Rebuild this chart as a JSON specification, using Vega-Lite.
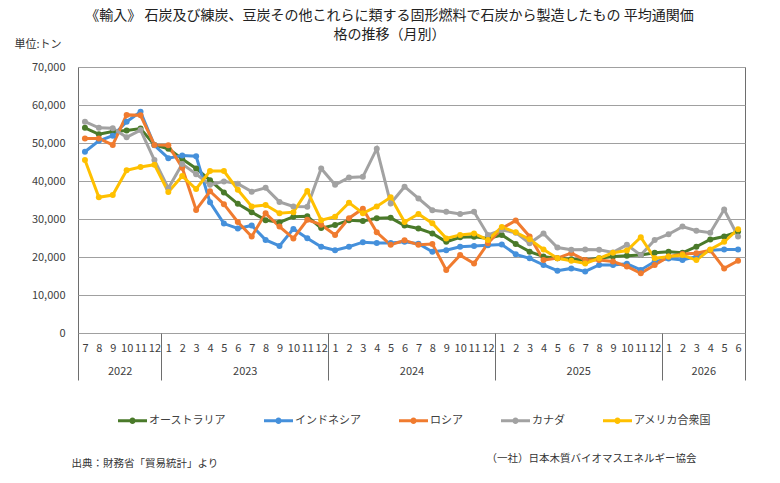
{
  "$schema": "https://vega.github.io/schema/vega-lite/v6.json",
  "width": 667,
  "height": 266,
  "autosize": "none",
  "padding": {"left": 78, "top": 67, "right": 35, "bottom": 150},
  "background": "white",
  "title": {
    "text": ["《輸入》 石炭及び練炭、豆炭その他これらに類する固形燃料で石炭から製造したもの  平均通関価", "格の推移（月別）"],
    "fontSize": 14,
    "fontWeight": "normal",
    "color": "#222222",
    "anchor": "middle",
    "dx": -22,
    "dy": 4,
    "offset": 0,
    "lineHeight": 19
  },
  "config": {
    "font": "Noto Sans CJK JP",
    "view": {"stroke": "#6e6e6e", "strokeWidth": 1},
    "axis": {
      "labelFont": "Noto Sans CJK JP",
      "titleFont": "Noto Sans CJK JP",
      "labelColor": "#404040",
      "titleColor": "#333333",
      "titleFontWeight": "normal"
    },
    "legend": {
      "orient": "none",
      "legendX": 40,
      "legendY": 339,
      "direction": "horizontal",
      "columnPadding": 38,
      "labelFont": "Noto Sans CJK JP",
      "labelFontSize": 11,
      "labelColor": "#404040",
      "labelOffset": 2,
      "labelLimit": 200,
      "symbolType": "M-1,-0.11L1,-0.11L1,0.11L-1,0.11Z M-0.22,0A0.22,0.22 0 1,1 0.22,0A0.22,0.22 0 1,1 -0.22,0Z",
      "symbolSize": 841,
      "symbolStrokeWidth": 0
    }
  },
  "data": {
    "values": [
      {"i": 0, "オーストラリア": 54000, "インドネシア": 47700, "ロシア": 51200, "カナダ": 55600, "アメリカ合衆国": 45500},
      {"i": 1, "オーストラリア": 52300, "インドネシア": 50600, "ロシア": 51200, "カナダ": 54000, "アメリカ合衆国": 35700},
      {"i": 2, "オーストラリア": 53000, "インドネシア": 51900, "ロシア": 49500, "カナダ": 53900, "アメリカ合衆国": 36300},
      {"i": 3, "オーストラリア": 53300, "インドネシア": 55600, "ロシア": 57400, "カナダ": 51500, "アメリカ合衆国": 42800},
      {"i": 4, "オーストラリア": 53800, "インドネシア": 58200, "ロシア": 57300, "カナダ": 53400, "アメリカ合衆国": 43700},
      {"i": 5, "オーストラリア": 49500, "インドネシア": 49400, "ロシア": 49500, "カナダ": 45500, "アメリカ合衆国": 44300},
      {"i": 6, "オーストラリア": 48500, "インドネシア": 46000, "ロシア": 49400, "カナダ": 38100, "アメリカ合衆国": 37100},
      {"i": 7, "オーストラリア": 45800, "インドネシア": 46700, "ロシア": 43500, "カナダ": 44500, "アメリカ合衆国": 41300},
      {"i": 8, "オーストラリア": 43300, "インドネシア": 46500, "ロシア": 32400, "カナダ": 41800, "アメリカ合衆国": 37900},
      {"i": 9, "オーストラリア": 40200, "インドネシア": 34400, "ロシア": 37300, "カナダ": 39000, "アメリカ合衆国": 42600},
      {"i": 10, "オーストラリア": 37000, "インドネシア": 28800, "ロシア": 33900, "カナダ": 39900, "アメリカ合衆国": 42600},
      {"i": 11, "オーストラリア": 34000, "インドネシア": 27500, "ロシア": 29200, "カナダ": 39300, "アメリカ合衆国": 37700},
      {"i": 12, "オーストラリア": 31800, "インドネシア": 28300, "ロシア": 25400, "カナダ": 37200, "アメリカ合衆国": 33300},
      {"i": 13, "オーストラリア": 29700, "インドネシア": 24500, "ロシア": 31500, "カナダ": 38200, "アメリカ合衆国": 33700},
      {"i": 14, "オーストラリア": 29100, "インドネシア": 22900, "ロシア": 28000, "カナダ": 34500, "アメリカ合衆国": 31500},
      {"i": 15, "オーストラリア": 30600, "インドネシア": 27400, "ロシア": 24900, "カナダ": 33300, "アメリカ合衆国": 31800},
      {"i": 16, "オーストラリア": 30700, "インドネシア": 24950, "ロシア": 29800, "カナダ": 33200, "アメリカ合衆国": 37400},
      {"i": 17, "オーストラリア": 27600, "インドネシア": 22700, "ロシア": 28500, "カナダ": 43300, "アメリカ合衆国": 29700},
      {"i": 18, "オーストラリア": 28400, "インドネシア": 21800, "ロシア": 25800, "カナダ": 39000, "アメリカ合衆国": 30600},
      {"i": 19, "オーストラリア": 29700, "インドネシア": 22700, "ロシア": 30200, "カナダ": 40900, "アメリカ合衆国": 34300},
      {"i": 20, "オーストラリア": 29500, "インドネシア": 23900, "ロシア": 32700, "カナダ": 41100, "アメリカ合衆国": 31500},
      {"i": 21, "オーストラリア": 30200, "インドネシア": 23700, "ロシア": 26500, "カナダ": 48500, "アメリカ合衆国": 33300},
      {"i": 22, "オーストラリア": 30300, "インドネシア": 23700, "ロシア": 23200, "カナダ": 34100, "アメリカ合衆国": 35700},
      {"i": 23, "オーストラリア": 28300, "インドネシア": 24000, "ロシア": 24400, "カナダ": 38500, "アメリカ合衆国": 29200},
      {"i": 24, "オーストラリア": 27500, "インドネシア": 23500, "ロシア": 23200, "カナダ": 35400, "アメリカ合衆国": 31300},
      {"i": 25, "オーストラリア": 26200, "インドネシア": 21400, "ロシア": 23400, "カナダ": 32300, "アメリカ合衆国": 28900},
      {"i": 26, "オーストラリア": 24000, "インドネシア": 21800, "ロシア": 16600, "カナダ": 31900, "アメリカ合衆国": 24900},
      {"i": 27, "オーストラリア": 25200, "インドネシア": 22700, "ロシア": 20500, "カナダ": 31300, "アメリカ合衆国": 25800},
      {"i": 28, "オーストラリア": 25300, "インドネシア": 22900, "ロシア": 18300, "カナダ": 31900, "アメリカ合衆国": 26200},
      {"i": 29, "オーストラリア": 24900, "インドネシア": 23100, "ロシア": 23600, "カナダ": 25800, "アメリカ合衆国": 24500},
      {"i": 30, "オーストラリア": 25800, "インドネシア": 23300, "ロシア": 27500, "カナダ": 27100, "アメリカ合衆国": 27900},
      {"i": 31, "オーストラリア": 23400, "インドネシア": 20700, "ロシア": 29600, "カナダ": 26400, "アメリカ合衆国": 26500},
      {"i": 32, "オーストラリア": 21400, "インドネシア": 19650, "ロシア": 25400, "カナダ": 23600, "アメリカ合衆国": 24650},
      {"i": 33, "オーストラリア": 20100, "インドネシア": 17900, "ロシア": 19200, "カナダ": 26200, "アメリカ合衆国": 22000},
      {"i": 34, "オーストラリア": 19700, "インドネシア": 16400, "ロシア": 19700, "カナダ": 22500, "アメリカ合衆国": 19650},
      {"i": 35, "オーストラリア": 19400, "インドネシア": 17000, "ロシア": 21000, "カナダ": 21900, "アメリカ合衆国": 19000},
      {"i": 36, "オーストラリア": 19200, "インドネシア": 16200, "ロシア": 19200, "カナダ": 22000, "アメリカ合衆国": 18300},
      {"i": 37, "オーストラリア": 19700, "インドネシア": 17900, "ロシア": 19200, "カナダ": 21900, "アメリカ合衆国": 19650},
      {"i": 38, "オーストラリア": 20100, "インドネシア": 17900, "ロシア": 18800, "カナダ": 21200, "アメリカ合衆国": 21100},
      {"i": 39, "オーストラリア": 20300, "インドネシア": 18200, "ロシア": 17500, "カナダ": 23200, "アメリカ合衆国": 21700},
      {"i": 40, "オーストラリア": 20500, "インドネシア": 16600, "ロシア": 15700, "カナダ": 20500, "アメリカ合衆国": 25200},
      {"i": 41, "オーストラリア": 21100, "インドネシア": 18800, "ロシア": 17900, "カナダ": 24500, "アメリカ合衆国": 19650},
      {"i": 42, "オーストラリア": 21400, "インドネシア": 19600, "ロシア": 20100, "カナダ": 26000, "アメリカ合衆国": 20100},
      {"i": 43, "オーストラリア": 21100, "インドネシア": 19200, "ロシア": 20800, "カナダ": 28000, "アメリカ合衆国": 20500},
      {"i": 44, "オーストラリア": 22700, "インドネシア": 20100, "ロシア": 21000, "カナダ": 26900, "アメリカ合衆国": 19200},
      {"i": 45, "オーストラリア": 24600, "インドネシア": 21800, "ロシア": 21800, "カナダ": 26400, "アメリカ合衆国": 22000},
      {"i": 46, "オーストラリア": 25400, "インドネシア": 22000, "ロシア": 17000, "カナダ": 32500, "アメリカ合衆国": 24000},
      {"i": 47, "オーストラリア": 26700, "インドネシア": 22000, "ロシア": 19000, "カナダ": 25400, "アメリカ合衆国": 27300}
    ]
  },
  "layer": [
    {
      "transform": [
        {"fold": ["オーストラリア", "インドネシア", "ロシア", "カナダ", "アメリカ合衆国"], "as": ["country", "price"]}
      ],
      "mark": {"type": "line", "strokeWidth": 3},
      "encoding": {
        "x": {
          "field": "i",
          "type": "quantitative",
          "scale": {"domain": [-0.5, 47.5], "nice": false, "zero": false},
          "axis": {
            "orient": "bottom",
            "values": [0, 1, 2, 3, 4, 5, 6, 7, 8, 9, 10, 11, 12, 13, 14, 15, 16, 17, 18, 19, 20, 21, 22, 23, 24, 25, 26, 27, 28, 29, 30, 31, 32, 33, 34, 35, 36, 37, 38, 39, 40, 41, 42, 43, 44, 45, 46, 47],
            "labelExpr": "'' + ((datum.value + 6) % 12 + 1)",
            "labelFontSize": 11,
            "labelAngle": 0,
            "labelOverlap": false,
            "labelFlush": false,
            "labelPadding": 9,
            "ticks": false,
            "tickSize": 0,
            "domain": false,
            "grid": false,
            "title": "出典：財務省「貿易統計」より",
            "titleFontSize": 10.5,
            "titleAnchor": "start",
            "titleAlign": "left",
            "titleBaseline": "middle",
            "titleX": -7,
            "titleY": 130
          }
        },
        "y": {
          "field": "price",
          "type": "quantitative",
          "scale": {"domain": [0, 70000], "nice": false},
          "axis": {
            "values": [0, 10000, 20000, 30000, 40000, 50000, 60000, 70000],
            "format": ",.0f",
            "labelFontSize": 11,
            "labelPadding": 13,
            "ticks": false,
            "tickSize": 0,
            "domain": false,
            "grid": true,
            "gridColor": "#a0a0a0",
            "gridWidth": 1,
            "title": "単位:トン",
            "titleFontSize": 11,
            "titleAngle": 0,
            "titleAlign": "left",
            "titleBaseline": "middle",
            "titleX": -64,
            "titleY": -23
          }
        },
        "color": {
          "field": "country",
          "type": "nominal",
          "scale": {
            "domain": ["オーストラリア", "インドネシア", "ロシア", "カナダ", "アメリカ合衆国"],
            "range": ["#4a7a2a", "#4590db", "#f07b2f", "#a2a2a2", "#ffc000"]
          },
          "legend": {
            "title": null,
            "encode": {
              "symbols": {
                "update": {
                  "fill": {"scale": "color", "field": "value"},
                  "stroke": {"value": "transparent"}
                }
              }
            }
          }
        }
      }
    },
    {
      "transform": [
        {"fold": ["オーストラリア", "インドネシア", "ロシア", "カナダ", "アメリカ合衆国"], "as": ["country", "price"]}
      ],
      "mark": {"type": "point", "filled": true, "size": 36, "opacity": 1},
      "encoding": {
        "x": {
          "field": "i",
          "type": "quantitative",
          "scale": {"domain": [-0.5, 47.5], "nice": false, "zero": false},
          "axis": {
            "orient": "bottom",
            "values": [-0.5, 5.5, 17.5, 29.5, 41.5, 47.5],
            "labels": false,
            "ticks": true,
            "tickSize": 47,
            "tickColor": "#6e6e6e",
            "tickWidth": 1,
            "domain": false,
            "grid": false,
            "title": null
          }
        },
        "y": {
          "field": "price",
          "type": "quantitative",
          "scale": {"domain": [0, 70000], "nice": false},
          "axis": {
            "values": [0, 10000, 20000, 30000, 40000, 50000, 60000, 70000],
            "format": ",.0f",
            "labelFontSize": 11,
            "labelPadding": 13,
            "ticks": false,
            "tickSize": 0,
            "domain": false,
            "grid": true,
            "gridColor": "#a0a0a0",
            "gridWidth": 1,
            "title": "単位:トン",
            "titleFontSize": 11,
            "titleAngle": 0,
            "titleAlign": "left",
            "titleBaseline": "middle",
            "titleX": -64,
            "titleY": -23
          }
        },
        "color": {"field": "country", "type": "nominal"}
      }
    },
    {
      "data": {"values": [{"mid": 2.5}, {"mid": 11.5}, {"mid": 23.5}, {"mid": 35.5}, {"mid": 44.5}]},
      "mark": {"type": "point", "opacity": 0},
      "encoding": {
        "x": {
          "field": "mid",
          "type": "quantitative",
          "scale": {"domain": [-0.5, 47.5], "nice": false, "zero": false},
          "axis": {
            "orient": "bottom",
            "values": [2.5, 11.5, 23.5, 35.5, 44.5],
            "labelExpr": "'' + (2022 + floor((datum.value + 6) / 12))",
            "labelFontSize": 11,
            "labelPadding": 32,
            "labelFlush": false,
            "ticks": false,
            "tickSize": 0,
            "domain": false,
            "grid": false,
            "title": "（一社）日本木質バイオマスエネルギー協会",
            "titleFontSize": 10.5,
            "titleAnchor": "start",
            "titleAlign": "left",
            "titleBaseline": "middle",
            "titleX": 408,
            "titleY": 125
          }
        }
      }
    }
  ],
  "resolve": {"axis": {"x": "independent"}}
}
